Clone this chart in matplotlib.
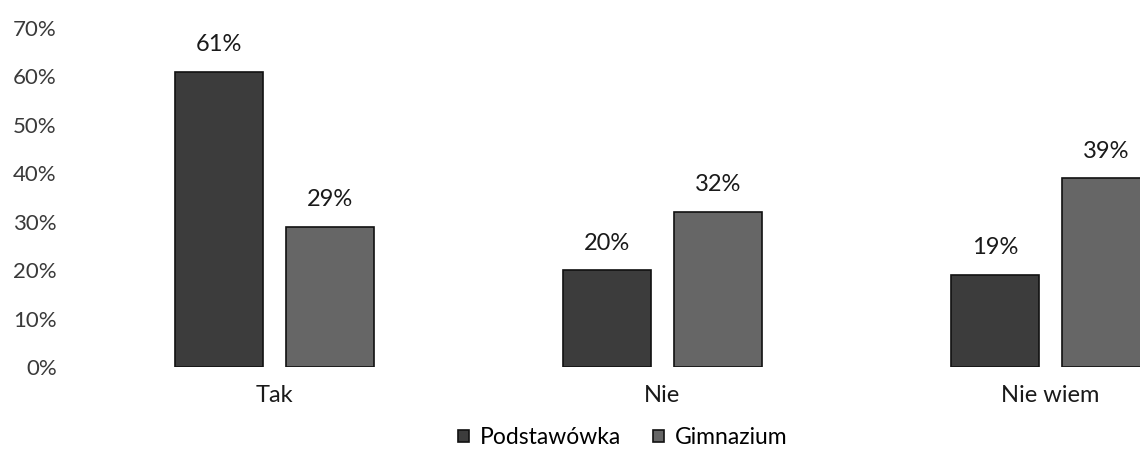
import numpy as np
import matplotlib.pyplot as plt

# data
categories = ['Tak', 'Nie', 'Nie wiem']
podstawowka = [0.61, 0.20, 0.19]
gimnazium = [0.29, 0.32, 0.39]
labels_p = ['61%', '20%', '19%']
labels_g = ['29%', '32%', '39%']
yticks = [0, 0.1, 0.2, 0.3, 0.4, 0.5, 0.6, 0.7]

plt.rcParams['font.family'] = ['Lato', 'DejaVu Sans']

fig = plt.figure(figsize=(11.4, 4.49), dpi=100)
# axes runs past the right edge, like the scanned original
ax = fig.add_axes([80.5 / 1140, 82 / 449, 1164 / 1140, 339 / 449])

x = np.arange(len(categories))
w = 0.225
off = 0.143
b1 = ax.bar(x - off, podstawowka, w, color='#3c3c3c', edgecolor='#111111', linewidth=1.2, label='Podstawówka')
b2 = ax.bar(x + off, gimnazium, w, color='#666666', edgecolor='#111111', linewidth=1.2, label='Gimnazium')

for bars, labs in ((b1, labels_p), (b2, labels_g)):
    for r, t in zip(bars, labs):
        ax.annotate(t, (r.get_x() + r.get_width() / 2, r.get_height()),
                    xytext=(0, 19.5), textcoords='offset points',
                    ha='center', va='center', fontsize=17, color='#1a1a1a')

ax.set_xlim(-0.5, 2.5)
ax.set_ylim(0, 0.7)
ax.set_yticks(yticks)
ax.set_yticklabels([f'{int(round(v * 100))}%' for v in yticks], fontsize=16, color='#3a3a3a')
ax.set_xticks(x)
ax.set_xticklabels(categories, fontsize=17, color='#1a1a1a')
ax.tick_params(length=0)
ax.tick_params(axis='x', pad=13)
ax.tick_params(axis='y', pad=17)
for s in ax.spines.values():
    s.set_visible(False)

fig.legend(handles=[b1, b2], loc='center', bbox_to_anchor=(623 / 1140, 1 - 438 / 449),
           ncol=2, frameon=False, fontsize=16.5, handlelength=0.45, handleheight=0.45,
           handletextpad=0.5, columnspacing=1.4, borderpad=0)

fig.savefig('out.png', dpi=100)
